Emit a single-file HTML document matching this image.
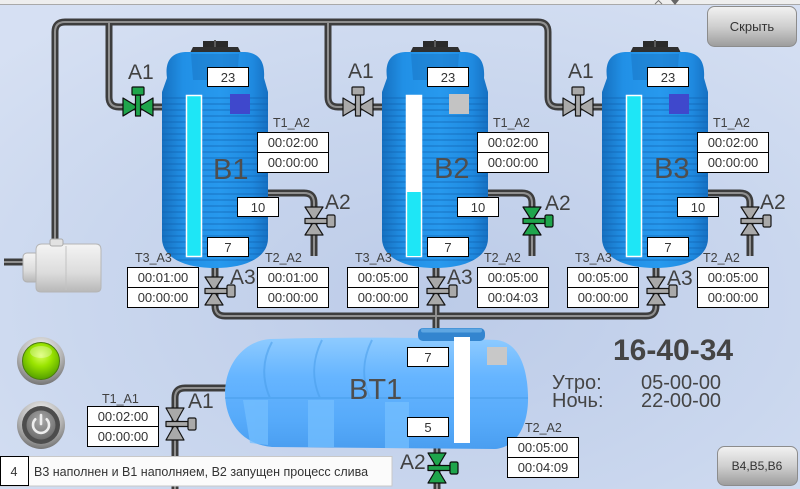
<!DOCTYPE html>
<html><head><meta charset="utf-8">
<style>
html,body{margin:0;padding:0;background:#cfdaef;width:800px;height:489px;overflow:hidden;}
svg{display:block;}
text{font-family:"Liberation Sans",Arial,sans-serif;}
.b rect{fill:#fff;stroke:#000;stroke-width:1;}
.b text{font-size:13px;fill:#333;text-anchor:middle;}
.sl{font-size:12.5px;fill:#404040;}
.al{font-size:21px;fill:#404040;}
.tl{font-size:29px;fill:#4e4e4e;}
.vg{fill:#1fa54c;stroke:#0c0c0c;stroke-width:1.2;stroke-linejoin:round;}
.vy{fill:#a9a9a9;stroke:#151515;stroke-width:1.2;stroke-linejoin:round;}
</style></head><body>
<svg width="800" height="489" viewBox="0 0 800 489" xmlns="http://www.w3.org/2000/svg">
<defs>
<radialGradient id="bg" cx="0.55" cy="0.62" r="0.75">
<stop offset="0" stop-color="#bccbe8"/>
<stop offset="0.6" stop-color="#cad7ee"/>
<stop offset="1" stop-color="#d6e0f3"/>
</radialGradient>
<linearGradient id="tg" x1="0" x2="1" y1="0" y2="0">
<stop offset="0" stop-color="#1670c0"/>
<stop offset="0.2" stop-color="#2190e6"/>
<stop offset="0.55" stop-color="#2799ee"/>
<stop offset="0.85" stop-color="#1f8ae0"/>
<stop offset="1" stop-color="#1670c2"/>
</linearGradient>
<linearGradient id="bt" x1="0" y1="0" x2="0" y2="1">
<stop offset="0" stop-color="#8ecbff"/>
<stop offset="0.35" stop-color="#66b5ff"/>
<stop offset="0.75" stop-color="#56aafa"/>
<stop offset="1" stop-color="#4a9ef0"/>
</linearGradient>
<linearGradient id="pg" x1="0" y1="0" x2="0" y2="1">
<stop offset="0" stop-color="#f4f4f4"/>
<stop offset="0.6" stop-color="#dcdcdc"/>
<stop offset="1" stop-color="#b8b8b8"/>
</linearGradient>
<linearGradient id="btn" x1="0" y1="0" x2="0" y2="1">
<stop offset="0" stop-color="#f2f2f2"/>
<stop offset="0.5" stop-color="#cfcfcf"/>
<stop offset="1" stop-color="#9c9c9c"/>
</linearGradient>
<radialGradient id="ring" cx="0.5" cy="0.3" r="0.75">
<stop offset="0" stop-color="#ffffff"/>
<stop offset="0.6" stop-color="#b4b4b4"/>
<stop offset="1" stop-color="#686868"/>
</radialGradient>
<radialGradient id="grn" cx="0.5" cy="0.35" r="0.65">
<stop offset="0" stop-color="#d8ff5c"/>
<stop offset="0.45" stop-color="#9ae400"/>
<stop offset="1" stop-color="#54a000"/>
</radialGradient>
<radialGradient id="pw" cx="0.5" cy="0.35" r="0.7">
<stop offset="0" stop-color="#a8a8a8"/>
<stop offset="1" stop-color="#6a6a6a"/>
</radialGradient>
<clipPath id="tc"><path d="M-53,92 L53,92 L53,238 C53,258 30,268 0,268 C-30,268 -53,258 -53,238 Z"/></clipPath>
<g id="tank">
 <rect x="-12" y="41" width="25" height="8" fill="#2a2a2a"/>
 <rect x="-1" y="40" width="2" height="9" fill="#5a5a5a"/>
 <path d="M-26,55 L-22,47 L23,47 L27,55 Z" fill="#2f2f2f"/>
 <path d="M-48,78 C-50,64 -46,53 -30,52 L30,52 C46,53 50,64 49,78 L53,92 L53,238 C53,258 30,268 0,268 C-30,268 -53,258 -53,238 L-53,92 Z" fill="url(#tg)"/>
 <path d="M-24,54 L24,54 L22,80 L-22,80 Z" fill="#1566b4" opacity="0.35"/>
 <g clip-path="url(#tc)" stroke="#1262ae" stroke-width="1.3" opacity="0.55" fill="none">
 <path d="M-53,98H53M-53,104H53M-53,110H53M-53,116H53M-53,122H53M-53,128H53M-53,134H53M-53,140H53M-53,146H53M-53,152H53M-53,158H53M-53,164H53M-53,170H53M-53,176H53M-53,182H53M-53,188H53M-53,194H53M-53,200H53M-53,206H53M-53,212H53M-53,218H53M-53,224H53M-53,230H53M-53,236H53M-53,242H53M-53,248H53M-53,254H53M-53,260H53"/>
 </g>
</g>
</defs>

<rect width="800" height="489" fill="url(#bg)"/>
<rect width="800" height="4" fill="#eeeeee"/>
<line x1="0" y1="4.5" x2="800" y2="4.5" stroke="#a9a9a9"/>
<path d="M655,4 L658.5,0.5 L662,4" fill="none" stroke="#777" stroke-width="1"/>
<path d="M671,0 L679,0 L675,5 Z" fill="#666"/>

<!-- pipes -->
<g fill="none" stroke="#3d3d3d" stroke-width="7" stroke-linejoin="round">
<path d="M55,244 V32 Q55,22 65,22 H538 Q548,22 548,32 V97 Q548,107 558,107 H605"/>
<path d="M109,22 V97 Q109,107 119,107 H165"/>
<path d="M328,22 V97 Q328,107 338,107 H385"/>
<path d="M262,193 H304 Q314,193 314,203 V256"/>
<path d="M482,193 H522 Q532,193 532,203 V256"/>
<path d="M702,193 H740 Q750,193 750,203 V256"/>
<path d="M215,262 V306 Q215,316 225,316 H646 Q656,316 656,306 V262"/>
<path d="M436,262 V334"/>
<path d="M175,489 V398 Q175,388 185,388 H232"/>
<path d="M437,444 V489"/>
<path d="M4,262 H28"/>
</g>
<g fill="none" stroke="#909090" stroke-width="2" stroke-linejoin="round">
<path d="M55,244 V32 Q55,22 65,22 H538 Q548,22 548,32 V97 Q548,107 558,107 H605"/>
<path d="M109,22 V97 Q109,107 119,107 H165"/>
<path d="M328,22 V97 Q328,107 338,107 H385"/>
<path d="M262,193 H304 Q314,193 314,203 V256"/>
<path d="M482,193 H522 Q532,193 532,203 V256"/>
<path d="M702,193 H740 Q750,193 750,203 V256"/>
<path d="M215,262 V306 Q215,316 225,316 H646 Q656,316 656,306 V262"/>
<path d="M436,262 V334"/>
<path d="M175,489 V398 Q175,388 185,388 H232"/>
<path d="M437,444 V489"/>
<path d="M4,262 H28"/>
</g>

<!-- pump -->
<rect x="23" y="253" width="16" height="29" rx="4" fill="url(#pg)" stroke="#b0b0b0"/>
<path d="M36,250 Q36,244 42,244 L96,244 Q101,244 101,250 L101,287 Q101,292 96,292 L41,292 Q36,292 36,287 Z" fill="url(#pg)" stroke="#b5b5b5"/>
<line x1="66" y1="246" x2="66" y2="290" stroke="#c2c2c2"/>
<rect x="50" y="239" width="13" height="7" rx="2" fill="#e2e2e2" stroke="#aaa"/>

<!-- vertical tanks -->
<use href="#tank" transform="translate(215,0)"/>
<use href="#tank" transform="translate(435,0)"/>
<use href="#tank" transform="translate(655,0)"/>

<!-- level bars -->
<rect x="186.5" y="95.5" width="15" height="161" fill="#1ee6f6" stroke="#fff" stroke-width="1.5"/>
<rect x="406.5" y="95.5" width="15" height="161" fill="#fff" stroke="#fff" stroke-width="1.5"/>
<rect x="407.2" y="192" width="13.6" height="64" fill="#1ee6f6"/>
<rect x="626.5" y="95.5" width="15" height="161" fill="#1ee6f6" stroke="#fff" stroke-width="1.5"/>

<!-- indicator squares -->
<rect x="230" y="94" width="20" height="20" fill="#3f48cc"/>
<rect x="449" y="94" width="20" height="20" fill="#c3c3c3"/>
<rect x="669" y="94" width="20" height="20" fill="#3f48cc"/>

<!-- BT1 tank -->
<path d="M270,339 C245,341 226,362 225,392 C225,420 240,444 272,447 L495,449 C518,447 529,423 528,395 C527,365 518,343 497,340 C420,337 340,337 270,339 Z" fill="url(#bt)"/>
<g fill="#74bfff" opacity="0.75">
<path d="M243,400 L268,400 L268,445 L250,443 Z"/>
<rect x="308" y="400" width="26" height="47"/>
<rect x="385" y="402" width="24" height="46"/>
</g>
<g stroke="#4a9eea" stroke-width="2" fill="none" opacity="0.55">
<path d="M272,342 C262,360 262,380 270,398"/>
<path d="M322,340 C312,360 312,380 320,398"/>
<path d="M372,340 C362,360 362,380 370,398"/>
<path d="M225,398 H528"/>
</g>
<rect x="418" y="328" width="67" height="13" rx="5" fill="#3385cf"/>
<rect x="421" y="328.5" width="61" height="4" rx="2" fill="#5ea6e2"/>
<rect x="454" y="337" width="16" height="106" fill="#fff"/>
<rect x="487" y="347" width="20" height="18" fill="#c8c8c8"/>

<!-- valves -->
<g class="vg">
<path d="M123,98 L138,107 L123,116 Z M153,98 L138,107 L153,116 Z"/>
<rect x="135.5" y="95" width="5" height="21"/>
<rect x="132" y="87" width="12" height="8" rx="1"/>
</g>
<g class="vy">
<path d="M343,98 L358,107 L343,116 Z M373,98 L358,107 L373,116 Z"/>
<rect x="355.5" y="95" width="5" height="21"/>
<rect x="352" y="87" width="12" height="8" rx="1"/>
</g>
<g class="vy">
<path d="M563,98 L578,107 L563,116 Z M593,98 L578,107 L593,116 Z"/>
<rect x="575.5" y="95" width="5" height="21"/>
<rect x="572" y="87" width="12" height="8" rx="1"/>
</g>
<g class="vy">
<path d="M305,207 L323,207 L314,221 Z M305,235 L323,235 L314,221 Z"/>
<rect x="305" y="218.5" width="22" height="5"/><rect x="327" y="215" width="8" height="12" rx="1.5"/>
</g>
<g class="vg">
<path d="M523,207 L541,207 L532,221 Z M523,235 L541,235 L532,221 Z"/>
<rect x="523" y="218.5" width="22" height="5"/><rect x="545" y="215" width="8" height="12" rx="1.5"/>
</g>
<g class="vy">
<path d="M741,207 L759,207 L750,221 Z M741,235 L759,235 L750,221 Z"/>
<rect x="741" y="218.5" width="22" height="5"/><rect x="763" y="215" width="8" height="12" rx="1.5"/>
</g>
<g class="vy">
<path d="M205,277 L223,277 L214,291 Z M205,305 L223,305 L214,291 Z"/>
<rect x="205" y="288.5" width="22" height="5"/><rect x="227" y="285" width="8" height="12" rx="1.5"/>
</g>
<g class="vy">
<path d="M427,277 L445,277 L436,291 Z M427,305 L445,305 L436,291 Z"/>
<rect x="427" y="288.5" width="22" height="5"/><rect x="449" y="285" width="8" height="12" rx="1.5"/>
</g>
<g class="vy">
<path d="M647,277 L665,277 L656,291 Z M647,305 L665,305 L656,291 Z"/>
<rect x="647" y="288.5" width="22" height="5"/><rect x="669" y="285" width="8" height="12" rx="1.5"/>
</g>
<g class="vy">
<path d="M166,408 L184,408 L175,424 Z M166,440 L184,440 L175,424 Z"/>
<rect x="166" y="421.5" width="22" height="5"/><rect x="188" y="418" width="8" height="12" rx="1.5"/>
</g>
<g class="vg">
<path d="M428,453 L446,453 L437,468 Z M428,483 L446,483 L437,468 Z"/>
<rect x="428" y="465.5" width="22" height="5"/><rect x="450" y="462" width="8" height="12" rx="1.5"/>
</g>

<!-- valve labels -->
<text class="al" x="128" y="79">A1</text>
<text class="al" x="348" y="78">A1</text>
<text class="al" x="568" y="78">A1</text>
<text class="al" x="325" y="209">A2</text>
<text class="al" x="545" y="210">A2</text>
<text class="al" x="760" y="209">A2</text>
<text class="al" x="230" y="284">A3</text>
<text class="al" x="447" y="284">A3</text>
<text class="al" x="667" y="285">A3</text>
<text class="al" x="188" y="408">A1</text>
<text class="al" x="400" y="469">A2</text>

<!-- tank labels -->
<text class="tl" x="213" y="179">B1</text>
<text class="tl" x="434" y="178">B2</text>
<text class="tl" x="654" y="178">B3</text>
<text class="tl" x="349" y="399">BT1</text>

<!-- small labels -->
<text class="sl" x="273" y="127">T1_A2</text>
<text class="sl" x="493" y="127">T1_A2</text>
<text class="sl" x="713" y="127">T1_A2</text>
<text class="sl" x="135" y="262">T3_A3</text>
<text class="sl" x="355" y="262">T3_A3</text>
<text class="sl" x="575" y="262">T3_A3</text>
<text class="sl" x="265" y="262">T2_A2</text>
<text class="sl" x="484" y="262">T2_A2</text>
<text class="sl" x="703" y="262">T2_A2</text>
<text class="sl" x="525" y="432">T2_A2</text>
<text class="sl" x="102" y="403">T1_A1</text>

<!-- value boxes -->
<g class="b">
<rect x="207.5" y="67.5" width="41" height="19"/><text x="228" y="82">23</text>
<rect x="237.5" y="197.5" width="41" height="19"/><text x="258" y="212">10</text>
<rect x="207.5" y="237.5" width="41" height="19"/><text x="228" y="252">7</text>
<rect x="257.5" y="132.5" width="71" height="20"/><text x="293" y="147">00:02:00</text>
<rect x="257.5" y="152.5" width="71" height="20"/><text x="293" y="167">00:00:00</text>
<rect x="127.5" y="267.5" width="71" height="20"/><text x="163" y="282">00:01:00</text>
<rect x="127.5" y="287.5" width="71" height="20"/><text x="163" y="302">00:00:00</text>
<rect x="257.5" y="267.5" width="71" height="20"/><text x="293" y="282">00:01:00</text>
<rect x="257.5" y="287.5" width="71" height="20"/><text x="293" y="302">00:00:00</text>

<rect x="427.5" y="67.5" width="41" height="19"/><text x="448" y="82">23</text>
<rect x="457.5" y="197.5" width="41" height="19"/><text x="478" y="212">10</text>
<rect x="427.5" y="237.5" width="41" height="19"/><text x="448" y="252">7</text>
<rect x="477.5" y="132.5" width="71" height="20"/><text x="513" y="147">00:02:00</text>
<rect x="477.5" y="152.5" width="71" height="20"/><text x="513" y="167">00:00:00</text>
<rect x="347.5" y="267.5" width="71" height="20"/><text x="383" y="282">00:05:00</text>
<rect x="347.5" y="287.5" width="71" height="20"/><text x="383" y="302">00:00:00</text>
<rect x="477.5" y="267.5" width="71" height="20"/><text x="513" y="282">00:05:00</text>
<rect x="477.5" y="287.5" width="71" height="20"/><text x="513" y="302">00:04:03</text>

<rect x="647.5" y="67.5" width="41" height="19"/><text x="668" y="82">23</text>
<rect x="677.5" y="197.5" width="41" height="19"/><text x="698" y="212">10</text>
<rect x="647.5" y="237.5" width="41" height="19"/><text x="668" y="252">7</text>
<rect x="697.5" y="132.5" width="71" height="20"/><text x="733" y="147">00:02:00</text>
<rect x="697.5" y="152.5" width="71" height="20"/><text x="733" y="167">00:00:00</text>
<rect x="567.5" y="267.5" width="71" height="20"/><text x="603" y="282">00:05:00</text>
<rect x="567.5" y="287.5" width="71" height="20"/><text x="603" y="302">00:00:00</text>
<rect x="697.5" y="267.5" width="71" height="20"/><text x="733" y="282">00:05:00</text>
<rect x="697.5" y="287.5" width="71" height="20"/><text x="733" y="302">00:00:00</text>

<rect x="407.5" y="347.5" width="41" height="19"/><text x="428" y="362">7</text>
<rect x="407.5" y="417.5" width="41" height="19"/><text x="428" y="432">5</text>
<rect x="507.5" y="437.5" width="71" height="20"/><text x="543" y="452">00:05:00</text>
<rect x="507.5" y="457.5" width="71" height="20"/><text x="543" y="472">00:04:09</text>
<rect x="87.5" y="406.5" width="71" height="20"/><text x="123" y="421">00:02:00</text>
<rect x="87.5" y="426.5" width="71" height="20"/><text x="123" y="441">00:00:00</text>
</g>

<!-- clock -->
<text x="613" y="360" font-size="30" font-weight="bold" fill="#454545">16-40-34</text>
<text x="552" y="389" font-size="20" fill="#454545">Утро:</text>
<text x="641" y="389" font-size="20" fill="#454545">05-00-00</text>
<text x="552" y="407" font-size="20" fill="#454545">Ночь:</text>
<text x="641" y="407" font-size="20" fill="#454545">22-00-00</text>

<!-- buttons -->
<rect x="707.5" y="6.5" width="89" height="40" rx="7" fill="url(#btn)" stroke="#8c8c8c"/>
<text x="752" y="31" font-size="13" fill="#333" text-anchor="middle">Скрыть</text>
<rect x="717.5" y="446.5" width="80" height="39" rx="7" fill="url(#btn)" stroke="#8c8c8c"/>
<text x="757" y="470" font-size="12" fill="#333" text-anchor="middle">B4,B5,B6</text>

<!-- lamp -->
<circle cx="41" cy="361" r="24" fill="url(#ring)"/>
<circle cx="41" cy="361" r="18.5" fill="url(#grn)" stroke="#4a7a10" stroke-width="1"/>
<ellipse cx="41" cy="352" rx="11" ry="6" fill="#fff" opacity="0.3"/>

<!-- power button -->
<circle cx="41" cy="425" r="24" fill="url(#ring)"/>
<circle cx="41" cy="425" r="19" fill="#4d4d4d"/>
<circle cx="41" cy="425" r="14.5" fill="url(#pw)"/>
<path d="M35.3,419.3 A8,8 0 1,0 46.7,419.3" fill="none" stroke="#eee" stroke-width="2.6" stroke-linecap="round"/>
<line x1="41" y1="415" x2="41" y2="424" stroke="#eee" stroke-width="2.6" stroke-linecap="round"/>

<!-- status bar -->
<rect x="0" y="456.5" width="392" height="29.5" fill="#fbfbfb" stroke="#c8c8c8"/>
<rect x="0.5" y="456.5" width="28" height="29" fill="#fff" stroke="#000"/>
<text x="14" y="476" font-size="12.5" fill="#333" text-anchor="middle">4</text>
<text x="34" y="476" font-size="12.5" fill="#333">В3 наполнен и В1 наполняем, В2 запущен процесс слива</text>
</svg>
</body></html>
